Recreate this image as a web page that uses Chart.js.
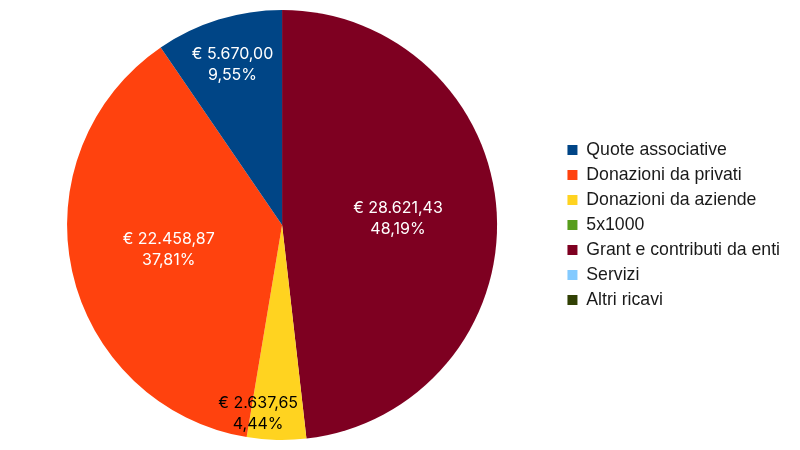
<!DOCTYPE html>
<html><head><meta charset="utf-8">
<script src="https://cdn.jsdelivr.net/npm/chart.js@4.4.1/dist/chart.umd.min.js"></script>
<style>html,body{margin:0;padding:0;background:#fff;}#wrap{width:800px;height:450px;}</style>
</head><body><div id="wrap"><canvas id="c" width="800" height="450"></canvas></div>
<script>
const categories = ["Quote associative","Donazioni da privati","Donazioni da aziende","5x1000","Grant e contributi da enti","Servizi","Altri ricavi"];
const values = [5670.00, 22458.87, 2637.65, 0, 28621.43, 0, 0];
const percentLabels = ["9,55%","37,81%","4,44%","","48,19%","",""];
const colors = ["#004586","#ff420e","#ffd320","#579d1c","#7e0021","#83caff","#314004"];
const labelColors = ["#ffffff","#ffffff","#000000","#ffffff","#ffffff","#000000","#ffffff"];

// LibreOffice draws counter-clockwise from top: reverse the data, reverse the legend back
const rev = a => a.slice().reverse();
function euro(v){
  const parts = v.toFixed(2).split(".");
  parts[0] = parts[0].replace(/\B(?=(\d{3})+(?!\d))/g,".");
  return "€ " + parts[0] + "," + parts[1];
}

const labelPlugin = {
  id:"sliceLabels",
  afterDatasetsDraw(chart){
    const ctx = chart.ctx;
    const meta = chart.getDatasetMeta(0);
    const data = chart.data.datasets[0].data;
    const lc = rev(labelColors);
    const pl = rev(percentLabels);
    ctx.save();
    ctx.font = "16px Inter";
    ctx.textAlign = "center";
    ctx.textBaseline = "middle";
    meta.data.forEach((arc,i)=>{
      const v = data[i];
      if(!v) return;
      const {x,y,startAngle,endAngle,outerRadius} = arc.getProps(["x","y","startAngle","endAngle","outerRadius"],true);
      const span = endAngle - startAngle;
      const mid = (startAngle+endAngle)/2;
      let f = span > 1.0 ? 0.54 : (span > 0.45 ? 0.78 : 0.88);
      let px = x + Math.cos(mid)*outerRadius*f;
      let py = y + Math.sin(mid)*outerRadius*f;
      if (span <= 0.45) px -= 19;
      ctx.fillStyle = lc[i];
      ctx.fillText(euro(v), px, py-10.5);
      ctx.fillText(pl[i], px, py+10.5);
    });
    ctx.restore();
  }
};

new Chart(document.getElementById("c"),{
  type:"pie",
  data:{
    labels: rev(categories),
    datasets:[{data: rev(values), backgroundColor: rev(colors), borderWidth:0, hoverOffset:0}]
  },
  options:{
    responsive:false,
    animation:false,
    layout:{padding:{top:10,bottom:10,left:4,right:10}},
    plugins:{
      tooltip:{enabled:false},
      legend:{
        position:"right",
        reverse:true,
        labels:{
          boxWidth:10, boxHeight:10, padding:7.3, color:"#1a1a1a",
          font:{family:"'Liberation Sans', Arial, sans-serif", size:17.7}
        }
      }
    }
  },
  plugins:[labelPlugin]
});
</script></body></html>
